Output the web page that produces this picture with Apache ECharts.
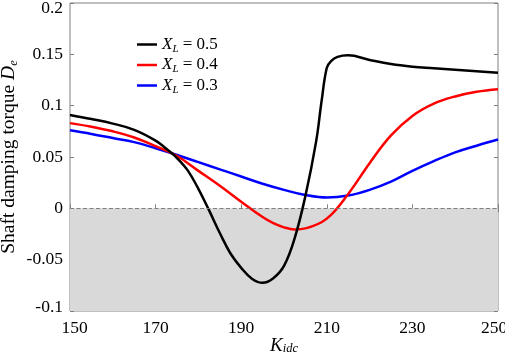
<!DOCTYPE html>
<html>
<head>
<meta charset="utf-8">
<script src="https://cdn.jsdelivr.net/npm/echarts@6/dist/echarts.min.js"></script>
<style>
  html, body { margin: 0; padding: 0; background: #fff; }
  #chart { width: 505px; height: 357px; }
</style>
</head>
<body>
<div id="chart"></div>
<script>
// values (K_idc, D_e)
const kBlack = [150, 155, 160, 165, 170, 172.5, 175, 177.5, 180, 182.5, 185, 187.5, 190, 192.5, 195, 197.5, 200, 202.5, 205, 207.5, 208.8, 210, 211, 212.5, 215, 220, 225, 230, 235, 240, 245, 250];
const dBlack = [0.091, 0.087, 0.0825, 0.0765, 0.066, 0.058, 0.049, 0.037, 0.019, -0.002, -0.024, -0.044, -0.058, -0.0685, -0.0725, -0.068, -0.056, -0.029, 0.012, 0.065, 0.105, 0.137, 0.1435, 0.1475, 0.149, 0.1445, 0.1405, 0.138, 0.1365, 0.135, 0.1335, 0.132];

const kRed = [150, 155, 160, 165, 170, 175, 180, 185, 190, 195, 197.5, 200, 202.5, 205, 210, 215, 220, 225, 230, 235, 240, 245, 250];
const dRed = [0.083, 0.0795, 0.075, 0.069, 0.0605, 0.051, 0.0365, 0.022, 0.0065, -0.0085, -0.0145, -0.0185, -0.0205, -0.0195, -0.010, 0.014, 0.044, 0.071, 0.090, 0.102, 0.109, 0.1135, 0.116];

const kBlue = [150, 155, 160, 165, 170, 175, 180, 185, 190, 195, 200, 205, 210, 215, 220, 225, 230, 235, 240, 245, 250];
const dBlue = [0.076, 0.0725, 0.0685, 0.0645, 0.0585, 0.052, 0.045, 0.038, 0.031, 0.024, 0.018, 0.013, 0.0105, 0.0125, 0.018, 0.026, 0.0365, 0.046, 0.0545, 0.061, 0.067];

const xTicks = [150, 170, 190, 210, 230, 250];
const yTicks = [-0.1, -0.05, 0, 0.05, 0.1, 0.15, 0.2];
const legendNames = ['0.5', '0.4', '0.3'];

const font = '"Liberation Serif", "Times New Roman", serif';
const pair = (ks, ds) => ks.map((k, i) => [k, ds[i]]);

const chart = echarts.init(document.getElementById('chart'));

const tickStyle = { show: true, inside: true, length: 4, lineStyle: { color: '#808080' } };
const lbl = { fontFamily: font, fontSize: 17.5, color: '#000' };

chart.setOption({
  animation: false,
  grid: {
    left: 70, right: 7, top: 3, bottom: 46,
    outerBoundsMode: 'none',
    show: true, borderColor: '#808080', borderWidth: 1, backgroundColor: 'transparent'
  },
  legend: {
    orient: 'vertical',
    left: 132, top: 31,
    itemWidth: 20, itemHeight: 2.5, itemGap: 2,
    icon: 'rect',
    data: legendNames.map(n => 'XL=' + n),
    formatter: name => '{i|X}{s|L}{n| = ' + name.slice(3) + '}',
    textStyle: {
      fontFamily: font, fontSize: 17, color: '#000',
      rich: {
        i: { fontFamily: font, fontSize: 17, fontStyle: 'italic', lineHeight: 20 },
        s: { fontFamily: font, fontSize: 11, fontStyle: 'italic', lineHeight: 9, verticalAlign: 'bottom' },
        n: { fontFamily: font, fontSize: 17, lineHeight: 20 }
      }
    }
  },
  xAxis: [{
    type: 'value', min: 150, max: 250, interval: 20,
    axisLine: { show: false },
    axisTick: tickStyle,
    splitLine: { show: false },
    axisLabel: Object.assign({}, lbl, {
      margin: 8,
      formatter: v => {
        if (!xTicks.includes(v)) return '';
        if (v === 150) return '{a|150}';
        if (v === 250) return '{b|250}';
        return String(v);
      },
      rich: {
        a: Object.assign({}, lbl, { padding: [0, 0, 0, 9] }),
        b: Object.assign({}, lbl, { padding: [0, 8, 0, 0] })
      }
    }),
    name: '{i|K}{s|idc}',
    nameLocation: 'middle', nameGap: 26, nameMoveOverlap: false,
    nameTextStyle: {
      rich: {
        i: { fontFamily: font, fontSize: 19, fontStyle: 'italic', color: '#000', lineHeight: 18 },
        s: { fontFamily: font, fontSize: 12.5, fontStyle: 'italic', color: '#000', lineHeight: 12, verticalAlign: 'bottom' }
      }
    }
  }, {
    type: 'value', min: 150, max: 250, interval: 20, position: 'top',
    axisLine: { show: false }, axisTick: tickStyle, axisLabel: { show: false }, splitLine: { show: false }
  }],
  yAxis: [{
    type: 'value', min: -0.1, max: 0.2, interval: 0.05,
    axisLine: { show: false },
    axisTick: tickStyle,
    splitLine: { show: false },
    axisLabel: Object.assign({}, lbl, {
      margin: 7,
      formatter: v => {
        const t = yTicks.find(y => Math.abs(y - v) < 1e-9);
        if (t === undefined) return '';
        if (t === 0.2) return '{t|0.2}';
        if (t === -0.1) return '{b|-0.1}';
        return String(t);
      },
      rich: {
        t: Object.assign({}, lbl, { padding: [10, 0, 0, 0] }),
        b: Object.assign({}, lbl, { padding: [0, 0, 8, 0] })
      }
    }),
    name: '{n|Shaft damping torque }{i|D}{s|e}',
    nameLocation: 'middle', nameGap: 50, nameRotate: 90, nameMoveOverlap: false,
    nameTextStyle: {
      rich: {
        n: { fontFamily: font, fontSize: 19.5, color: '#000', lineHeight: 22 },
        i: { fontFamily: font, fontSize: 19.5, fontStyle: 'italic', color: '#000', lineHeight: 22 },
        s: { fontFamily: font, fontSize: 12.5, fontStyle: 'italic', color: '#000', lineHeight: 10, verticalAlign: 'bottom' }
      }
    }
  }, {
    type: 'value', min: -0.1, max: 0.2, interval: 0.05, position: 'right',
    axisLine: { show: false }, axisTick: tickStyle, axisLabel: { show: false }, splitLine: { show: false }
  }],
  series: [
    {
      name: 'XL=0.5', type: 'line', smooth: 0.4, showSymbol: false,
      lineStyle: { color: '#000', width: 2.5 }, itemStyle: { color: '#000' },
      data: pair(kBlack, dBlack), z: 4,
      markArea: {
        silent: true,
        itemStyle: { color: '#d9d9d9' },
        data: [[{ coord: [150, -0.1] }, { coord: [250, 0] }]]
      },
      markLine: {
        silent: true, symbol: 'none', label: { show: false },
        lineStyle: { color: '#808080', type: [4, 2.5], width: 1 },
        data: [{ yAxis: 0 }]
      }
    },
    {
      name: 'XL=0.4', type: 'line', smooth: 0.4, showSymbol: false,
      lineStyle: { color: '#ff0000', width: 2.5 }, itemStyle: { color: '#ff0000' },
      data: pair(kRed, dRed), z: 3
    },
    {
      name: 'XL=0.3', type: 'line', smooth: 0.4, showSymbol: false,
      lineStyle: { color: '#0000ff', width: 2.5 }, itemStyle: { color: '#0000ff' },
      data: pair(kBlue, dBlue), z: 2
    }
  ]
});
</script>
</body>
</html>
